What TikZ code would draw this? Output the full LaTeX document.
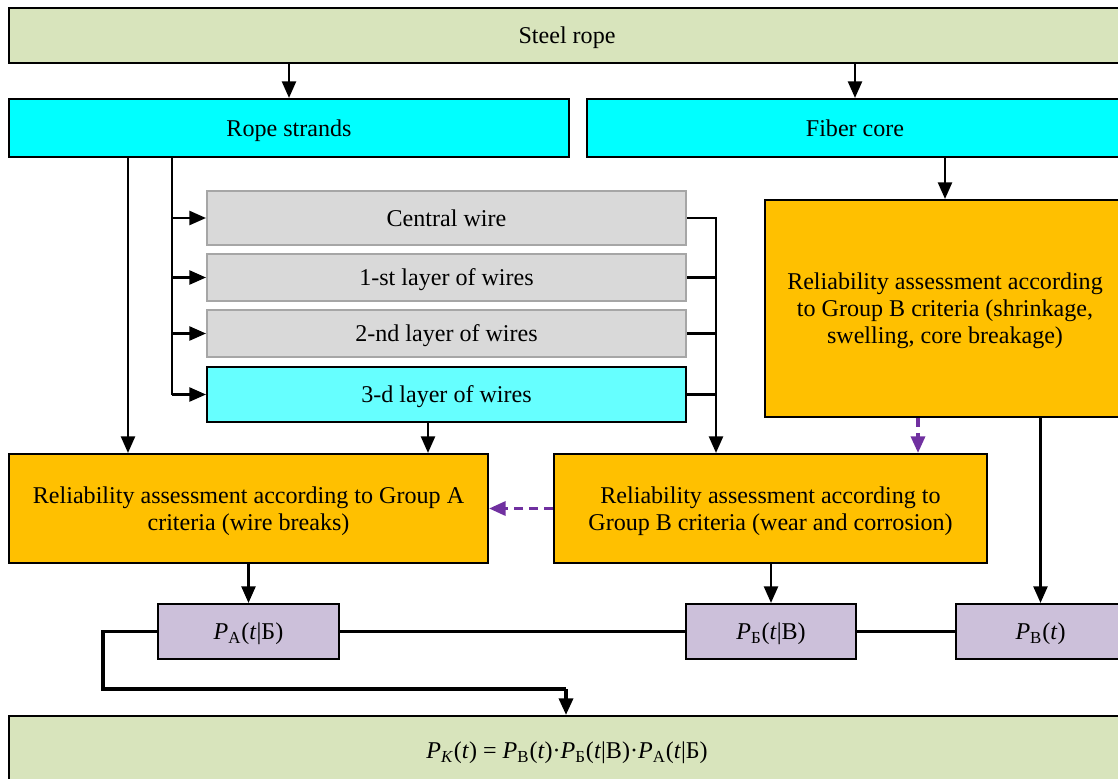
\documentclass[tikz,border=0pt]{standalone}
\usepackage{fontspec}
\setmainfont{Liberation Serif}
\usetikzlibrary{positioning,arrows.meta,calc}
\definecolor{ropegreen}{HTML}{D8E4BC}
\definecolor{strandcyan}{HTML}{00FFFF}
\definecolor{lightcyan}{HTML}{66FFFF}
\definecolor{wiregray}{HTML}{D9D9D9}
\definecolor{wireedge}{HTML}{A6A6A6}
\definecolor{critorange}{HTML}{FFC000}
\definecolor{problilac}{HTML}{CCC0DA}
\definecolor{linkpurple}{HTML}{7030A0}
\newcommand{\Prob}[2]{\textit{P}\textsubscript{#1}(\textit{t}#2)}

\begin{document}
\begin{tikzpicture}[x=0.02cm, y=-0.02cm, font=\fontsize{13.7}{15.4}\selectfont,
  every node/.append style={align=center, draw=black, line width=1.2pt, inner sep=0pt, text depth=0pt},
  greenbox/.style={fill=ropegreen},
  cyanbox/.style={fill=strandcyan},
  graybox/.style={fill=wiregray, draw=wireedge},
  orangebox/.style={fill=critorange},
  probbox/.style={fill=problilac, minimum width=3.4cm, minimum height=1.1cm},
  arr/.style={-{Triangle[length=9.5pt,width=8pt]}, line width=1.4pt},
  link/.style={-{Triangle[length=9.5pt,width=8pt]}, line width=1.9pt, linkpurple, dash pattern=on 5pt off 3.5pt},
  bus/.style={line width=2pt}]
  \useasboundingbox (0,0) rectangle (1118,778);
  \clip (0,0) rectangle (1118,778);

  % boxes
  \node [greenbox, minimum width=22.32cm, minimum height=1.1cm] at (567,35.5) (rope) {Steel rope};
  \node [cyanbox, minimum width=11.2cm, minimum height=1.16cm] at (289,128) (strands) {Rope strands};
  \node [cyanbox, minimum width=10.72cm, minimum height=1.16cm] at (855,128) (core) {Fiber core};
  \node [graybox, minimum width=9.58cm, minimum height=1.08cm] at (446.5,218) (central) {Central wire};
  \node [graybox, minimum width=9.58cm, minimum height=0.94cm] at (446.5,277.5) (first) {1-st layer of wires};
  \node [graybox, minimum width=9.58cm, minimum height=0.94cm] at (446.5,333.5) (second) {2-nd layer of wires};
  \node [fill=lightcyan, minimum width=9.58cm, minimum height=1.1cm] at (446.5,394.5) (third) {3-d layer of wires};
  \node [orangebox, minimum width=9.58cm, minimum height=2.18cm] at (248.5,508.5) (grpA) {Reliability assessment according to Group A\\criteria (wire breaks)};
  \node [orangebox, minimum width=8.66cm, minimum height=2.18cm] at (770.5,508.5) (grpB) {Reliability assessment according to\\Group B criteria (wear and corrosion)};
  \node [orangebox, minimum width=7.2cm, minimum height=4.34cm] at (945,308.5) (grpC) {Reliability assessment according\\to Group B criteria (shrinkage,\\swelling, core breakage)};
  \node [probbox, minimum width=3.62cm] at (248.5,631.5) (pA) {\Prob{А}{|Б}};
  \node [probbox] at (771,631.5) (pB) {\Prob{Б}{|В}};
  \node [probbox, minimum width=3.38cm] at (1040.5,631.5) (pV) {\Prob{В}{}};
  \node [greenbox, minimum width=22.32cm, minimum height=1.36cm] at (567,750) (total) {\textit{P}\textsubscript{\textit{К}}(\textit{t}) = \Prob{В}{}·\Prob{Б}{|В}·\Prob{А}{|Б}};

  % bus positions
  \coordinate (xa) at (128,0);
  \coordinate (xb) at (172,0);
  \coordinate (xt) at (428,0);
  \coordinate (xr) at (716,0);
  \coordinate (xd) at (918,0);
  \coordinate (xl) at (103,0);
  \coordinate (xf) at (566,0);
  \coordinate (yl) at (0,689);

  % connectors
  \draw[arr] (rope.south -| strands) -- (strands.north);
  \draw[arr] (rope.south -| core) -- (core.north);
  \draw[arr] (core.south -| grpC) -- (grpC.north);
  \draw[arr] (strands.south -| xa) -- (grpA.north -| xa);
  \draw[line width=1.4pt] (strands.south -| xb) -- (third.west -| xb);
  \foreach \n in {central,first,second,third}
    \draw[arr] (\n.west -| xb) -- (\n.west);
  \draw[arr] (central.east) -| (grpB.north -| xr);
  \foreach \n in {first,second,third}
    \draw[line width=1.4pt] (\n.east) -- (\n.east -| xr);
  \draw[arr] (third.south -| xt) -- (grpA.north -| xt);
  \draw[link] (grpC.south -| xd) -- (grpB.north -| xd);
  \draw[link] (grpB.west) -- (grpA.east);
  \draw[arr] (grpA.south -| pA) -- (pA.north);
  \draw[arr] (grpB.south -| pB) -- (pB.north);
  \draw[arr] (grpC.south -| pV) -- (pV.north);
  \draw[bus] (pA.east) -- (pB.west);
  \draw[bus] (pB.east) -- (pV.west);
  \draw[bus] (pA.west) -- (pA.west -| xl) -- (yl -| xl) -- (yl -| xf);
  \draw[arr, line width=2pt] (yl -| xf) -- (total.north -| xf);
\end{tikzpicture}
\end{document}
